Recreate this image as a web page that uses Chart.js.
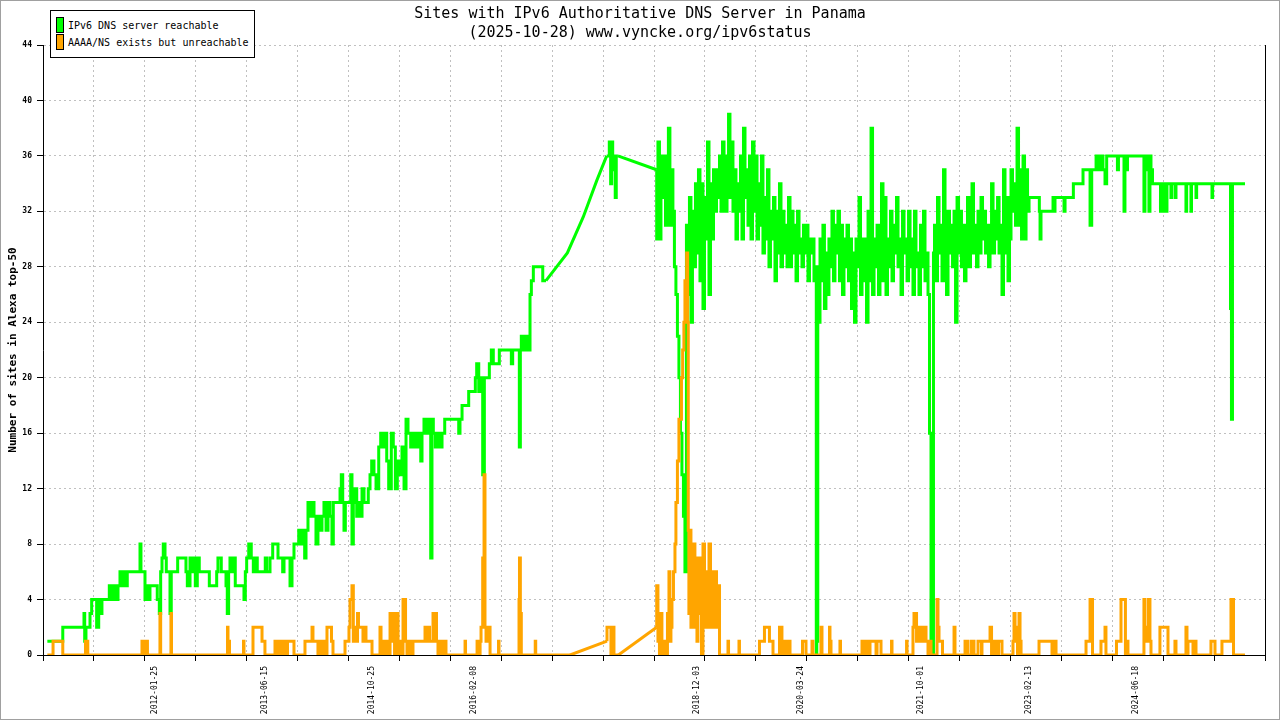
<!DOCTYPE html>
<html lang="en">
<head>
    <meta charset="UTF-8">
    <title>Sites with IPv6 Authoritative DNS Server in Panama</title>
    <script src="https://cdn.jsdelivr.net/npm/chart.js"></script>
    <style>
        body {
            margin: 0;
            background: #fff;
        }

        .wrap {
            position: relative;
            width: 1280px;
            height: 720px;
            background: #fff;
            font-family: "DejaVu Sans Mono", monospace;
        }

        .title {
            position: absolute;
            left: 0;
            width: 1280px;
            text-align: center;
            font-size: 15px;
            line-height: 19px;
            color: #000;
        }

        .legend {
            position: absolute;
            left: 50px;
            top: 10px;
            width: 205px;
            height: 48px;
            box-sizing: border-box;
            border: 1px solid #000;
            background: #fff;
            font-size: 10px;
        }

        .legend .sw {
            position: absolute;
            left: 5px;
            width: 6px;
            height: 14px;
            border: 1px solid #000;
        }

        .legend .txt {
            position: absolute;
            left: 17px;
            line-height: 14px;
            white-space: nowrap;
        }

        .frame {
            position: absolute;
            inset: 0;
            border: 1px solid #a0a0a0;
            pointer-events: none;
        }
    </style>
</head>

<body>
    <div class="wrap">
        <canvas id="chart" width="1280" height="720"></canvas>
        <div class="title" style="top:4px">Sites with IPv6 Authoritative DNS Server in Panama</div>
        <div class="title" style="top:23px">(2025-10-28) www.vyncke.org/ipv6status</div>
        <div class="legend">
            <div class="sw" style="top:6px;background:#00ff00"></div>
            <div class="txt" style="top:8px">IPv6 DNS server reachable</div>
            <div class="sw" style="top:23px;background:#ffa500"></div>
            <div class="txt" style="top:25px">AAAA/NS exists but unreachable</div>
        </div>
        <div class="frame"></div>
    </div>

    <script>
        // x values are decimal years, y values are site counts
        const xMin = 2010.653;
        const xMax = 2026.097;
        const gridDivisions = 24;
        const dateLabels = ['2012-01-25', '2013-06-15', '2014-10-25', '2016-02-08', '2018-12-03',
            '2020-03-24', '2021-10-01', '2023-02-13', '2024-06-18'];
        const yTicks = [0, 4, 8, 12, 16, 20, 24, 28, 32, 36, 40, 44];
        // a longer pause between samples (in years) is drawn as a straight line, not a step
        const sampleGap = 0.12;

        // IPv6 DNS server reachable
        const reachable = [
            [2010.708,1],[2010.784,1],[2010.903,1],[2010.910,2],[2011.171,2],[2011.180,3],[2011.196,1],[2011.213,2],
            [2011.247,2],[2011.268,3],[2011.288,4],[2011.331,4],[2011.357,2],[2011.373,4],[2011.398,3],[2011.424,4],
            [2011.491,4],[2011.508,5],[2011.541,4],[2011.575,5],[2011.601,4],[2011.626,5],[2011.651,6],[2011.668,5],
            [2011.693,6],[2011.718,5],[2011.743,6],[2011.879,6],[2011.891,8],[2011.908,6],[2011.942,6],[2011.954,4],
            [2011.980,5],[2012.005,4],[2012.030,5],[2012.097,5],[2012.123,4],[2012.140,3],[2012.157,6],[2012.173,7],
            [2012.195,8],[2012.211,7],[2012.229,6],[2012.258,6],[2012.274,3],[2012.292,6],[2012.355,6],[2012.368,7],
            [2012.460,7],[2012.477,6],[2012.511,5],[2012.532,7],[2012.552,6],[2012.578,7],[2012.603,5],[2012.628,7],
            [2012.646,6],[2012.755,6],[2012.772,5],[2012.848,5],[2012.864,6],[2012.906,7],[2012.931,6],[2012.966,6],
            [2012.982,5],[2012.999,3],[2013.016,6],[2013.041,7],[2013.058,6],[2013.083,7],[2013.108,5],[2013.193,5],
            [2013.210,4],[2013.227,6],[2013.253,7],[2013.285,8],[2013.311,7],[2013.345,6],[2013.361,7],[2013.387,6],
            [2013.462,6],[2013.480,7],[2013.522,6],[2013.556,7],[2013.623,8],[2013.648,7],[2013.682,7],[2013.699,6],
            [2013.724,7],[2013.775,7],[2013.800,5],[2013.825,7],[2013.850,8],[2013.885,8],[2013.910,9],[2013.935,8],
            [2013.960,9],[2013.977,7],[2014.002,9],[2014.027,11],[2014.053,10],[2014.078,11],[2014.103,10],[2014.128,8],
            [2014.154,10],[2014.179,9],[2014.204,10],[2014.230,11],[2014.255,9],[2014.280,11],[2014.305,10],[2014.322,8],
            [2014.347,11],[2014.407,11],[2014.423,12],[2014.441,13],[2014.457,11],[2014.474,9],[2014.499,11],[2014.542,11],
            [2014.558,13],[2014.575,8],[2014.592,11],[2014.618,12],[2014.643,10],
            [2014.659,11],[2014.685,10],[2014.710,12],[2014.764,11],[2014.786,12],[2014.807,13],[2014.836,14],[2014.862,13],
            [2014.896,12],[2014.921,15],[2014.946,16],[2014.972,15],[2014.997,16],[2015.022,14],[2015.055,12],[2015.080,16],
            [2015.106,15],[2015.131,12],[2015.156,14],[2015.190,13],[2015.216,15],[2015.241,12],[2015.266,17],[2015.300,16],
            [2015.326,15],[2015.358,16],[2015.392,15],[2015.427,16],[2015.443,14],[2015.468,16],[2015.494,17],[2015.528,16],
            [2015.553,17],[2015.569,7],[2015.586,17],[2015.611,16],[2015.636,15],[2015.671,16],[2015.696,15],[2015.730,16],
            [2015.755,17],[2015.907,17],[2015.923,16],[2015.949,17],[2015.965,18],[2016.033,18],[2016.050,19],[2016.117,19],
            [2016.134,20],[2016.160,21],[2016.185,19],[2016.210,20],[2016.231,13],[2016.252,20],[2016.294,20],[2016.319,21],
            [2016.344,22],[2016.370,21],[2016.420,21],[2016.438,22],[2016.572,22],[2016.589,21],[2016.606,22],[2016.673,22],
            [2016.686,15],[2016.698,22],[2016.716,23],[2016.749,22],[2016.774,23],[2016.808,22],[2016.825,26],[2016.850,27],
            [2016.875,28],[2016.969,28],[2017.010,27],[2017.280,29],[2017.481,31.6],[2017.650,34.2],[2017.777,36],[2017.810,36],
            [2017.827,37],[2017.840,34],[2017.853,37],[2017.869,35],[2017.885,36],[2017.898,33],[2017.919,36],[2018.409,35],
            [2018.425,30],[2018.444,37],[2018.463,30],[2018.482,36],[2018.501,33],[2018.520,36],[2018.538,31],[2018.557,35],
            [2018.576,38],[2018.595,31],[2018.614,35],[2018.633,32],[2018.652,28],[2018.671,26],[2018.690,23],[2018.709,20],
            [2018.728,16],[2018.747,13],[2018.766,10],[2018.785,6],[2018.804,31],[2018.823,26],[2018.842,33],[2018.861,24],
            [2018.880,32],[2018.899,28],[2018.918,34],[2018.937,29],[2018.956,35],[2018.975,27],[2018.994,34],[2019.013,25],
            [2019.032,33],[2019.051,30],[2019.070,37],[2019.089,26],[2019.108,34],[2019.127,30],[2019.146,35],[2019.165,32],
            [2019.184,35],[2019.203,33],[2019.222,36],[2019.241,32],[2019.260,37],[2019.279,34],[2019.298,32],[2019.317,36],
            [2019.335,39],[2019.354,33],[2019.373,37],[2019.392,32],[2019.411,35],[2019.430,30],[2019.449,34],[2019.468,32],
            [2019.487,36],[2019.506,30],[2019.525,38],[2019.544,33],[2019.563,35],[2019.582,31],[2019.601,36],[2019.620,30],
            [2019.639,37],[2019.658,32],[2019.677,36],[2019.696,30],[2019.714,34],[2019.733,31],[2019.752,36],[2019.771,29],
            [2019.790,33],[2019.809,30],[2019.828,35],[2019.847,28],[2019.866,32],[2019.885,30],[2019.904,33],[2019.923,27],
            [2019.942,32],[2019.961,29],[2019.980,34],[2019.999,28],[2020.018,32],[2020.037,29],[2020.056,31],[2020.075,28],
            [2020.094,33],[2020.113,28],[2020.132,32],[2020.151,29],[2020.170,31],[2020.189,27],[2020.208,32],[2020.227,29],
            [2020.245,30],[2020.264,28],[2020.283,31],[2020.302,29],[2020.321,31],[2020.340,27],[2020.359,30],[2020.378,29],
            [2020.397,30],[2020.416,27],[2020.426,28],[2020.432,0],[2020.445,1],[2020.454,28],[2020.473,24],[2020.492,30],
            [2020.510,27],[2020.529,31],[2020.548,25],[2020.567,29],[2020.586,26],[2020.605,30],[2020.624,28],[2020.643,32],
            [2020.662,27],[2020.681,31],[2020.700,29],[2020.719,32],[2020.738,27],[2020.757,31],[2020.776,26],[2020.795,30],
            [2020.814,28],[2020.833,31],[2020.852,27],[2020.871,30],[2020.890,25],[2020.909,29],[2020.928,24],[2020.947,30],
            [2020.966,28],[2020.985,33],[2021.004,26],[2021.023,30],[2021.042,27],[2021.061,30],[2021.080,24],[2021.099,32],
            [2021.118,27],[2021.137,38],[2021.156,26],[2021.175,30],[2021.194,28],[2021.212,31],[2021.231,26],[2021.250,29],
            [2021.269,34],[2021.288,27],[2021.307,33],[2021.326,26],[2021.345,30],[2021.364,28],[2021.383,32],[2021.402,27],
            [2021.421,31],[2021.440,29],[2021.459,33],[2021.478,28],[2021.497,30],[2021.516,26],[2021.535,32],[2021.554,29],
            [2021.573,30],[2021.592,27],[2021.611,32],[2021.630,28],[2021.648,30],[2021.667,26],[2021.686,32],[2021.705,28],
            [2021.724,29],[2021.743,26],[2021.762,31],[2021.781,28],[2021.800,32],[2021.819,27],[2021.838,29],[2021.857,26],
            [2021.876,16],[2021.895,0],[2021.907,0],[2021.920,29],[2021.939,31],[2021.958,27],[2021.977,33],[2021.996,29],
            [2022.015,31],[2022.034,27],[2022.053,35],[2022.072,30],[2022.091,26],[2022.110,32],[2022.129,29],[2022.148,31],
            [2022.167,28],[2022.186,32],[2022.205,24],[2022.224,33],[2022.242,29],[2022.261,32],[2022.280,28],[2022.299,31],
            [2022.318,27],[2022.337,31],[2022.356,33],[2022.375,28],[2022.394,31],[2022.413,34],[2022.432,29],[2022.451,31],
            [2022.470,28],[2022.489,32],[2022.508,29],[2022.527,33],[2022.546,30],[2022.565,32],[2022.584,29],[2022.603,31],
            [2022.622,28],[2022.641,31],[2022.660,34],[2022.679,29],[2022.698,32],[2022.717,30],[2022.736,33],[2022.754,29],
            [2022.773,31],[2022.792,26],[2022.811,35],[2022.830,29],[2022.849,33],[2022.868,27],[2022.887,30],[2022.906,35],
            [2022.925,32],[2022.944,34],[2022.963,31],[2022.982,38],[2023.001,31],[2023.020,35],[2023.039,30],[2023.058,36],
            [2023.077,30],[2023.096,35],[2023.115,32],[2023.134,33],[2023.245,33],[2023.254,32],[2023.266,30],[2023.285,32],
            [2023.418,32],[2023.431,33],[2023.443,32],[2023.469,33],[2023.557,33],[2023.570,32],[2023.583,33],[2023.675,33],
            [2023.684,34],[2023.797,34],[2023.810,35],[2023.886,35],[2023.907,31],[2023.924,35],[2023.962,35],[2023.974,36],
            [2023.999,36],[2024.011,35],[2024.037,35],[2024.049,36],[2024.075,35],[2024.096,34],[2024.113,36],[2024.232,36],
            [2024.245,35],[2024.258,36],[2024.315,36],[2024.327,32],[2024.340,36],[2024.359,35],[2024.378,36],[2024.567,36],
            [2024.580,32],[2024.592,36],[2024.618,35],[2024.630,36],[2024.643,32],[2024.656,36],[2024.675,35],[2024.694,34],
            [2024.776,34],[2024.782,32],[2024.795,34],[2024.814,32],[2024.833,34],[2024.858,32],[2024.871,34],[2024.908,34],
            [2024.921,33],[2024.934,34],[2024.965,34],[2024.972,33],[2024.984,34],[2025.098,34],[2025.107,32],[2025.124,34],
            [2025.161,34],[2025.168,32],[2025.187,34],[2025.225,34],[2025.233,33],[2025.250,34],[2025.427,34],[2025.435,33],
            [2025.452,34],[2025.661,34],[2025.673,25],[2025.686,17],[2025.701,34],[2025.844,34]
        ];

        // AAAA/NS exists but unreachable
        const unreachable = [
            [2010.708,0],[2010.780,0],[2010.793,1],[2010.903,1],[2010.913,0],[2011.190,0],[2011.198,1],[2011.219,1],
            [2011.225,0],[2011.904,0],[2011.916,1],[2011.929,0],[2011.942,1],[2011.961,0],[2011.973,1],[2011.992,0],
            [2012.131,0],[2012.140,3],[2012.150,0],[2012.270,0],[2012.277,3],[2012.289,0],[2012.985,0],[2012.991,2],
            [2013.010,1],[2013.016,0],[2013.187,0],[2013.193,1],[2013.206,0],[2013.307,0],[2013.313,2],[2013.421,2],
            [2013.433,1],[2013.458,1],[2013.465,0],[2013.585,0],[2013.597,1],[2013.610,0],[2013.623,1],[2013.642,0],
            [2013.661,1],[2013.686,0],[2013.699,1],[2013.711,0],[2013.730,1],[2013.743,0],[2013.756,1],[2013.825,1],
            [2013.838,0],[2013.964,0],[2013.989,1],[2014.053,1],[2014.065,2],[2014.078,1],[2014.128,1],[2014.141,0],
            [2014.166,1],[2014.192,0],[2014.217,1],[2014.242,0],[2014.261,2],[2014.299,2],[2014.318,1],[2014.330,0],
            [2014.470,0],[2014.482,1],[2014.520,1],[2014.533,2],[2014.558,4],[2014.575,5],[2014.584,1],[2014.609,2],
            [2014.628,1],[2014.640,3],[2014.659,2],[2014.697,2],[2014.710,1],[2014.735,2],[2014.760,1],[2014.811,1],
            [2014.823,0],[2014.912,0],[2014.925,2],[2014.944,1],[2014.963,0],[2014.982,1],[2015.001,0],[2015.020,1],
            [2015.039,0],[2015.058,3],[2015.077,1],[2015.096,3],[2015.115,0],[2015.140,3],[2015.159,0],[2015.178,1],
            [2015.203,0],[2015.235,4],[2015.253,1],[2015.279,0],[2015.304,1],[2015.329,0],[2015.348,1],[2015.481,1],
            [2015.500,2],[2015.519,1],[2015.538,2],[2015.557,1],[2015.582,1],[2015.595,3],[2015.614,1],[2015.626,3],
            [2015.645,1],[2015.671,0],[2015.696,1],[2015.721,0],[2015.746,1],[2015.765,0],[2015.987,0],[2015.993,1],
            [2016.006,0],[2016.139,0],[2016.151,1],[2016.177,0],[2016.189,1],[2016.210,2],[2016.227,7],[2016.239,13],
            [2016.252,2],[2016.277,1],[2016.303,2],[2016.315,0],[2016.410,0],[2016.416,1],[2016.429,0],[2016.669,0],[2016.675,4],
            [2016.686,7],[2016.698,3],[2016.713,0],[2016.874,0],[2016.880,1],[2016.890,0],[2017.314,0],[2017.781,1],[2017.793,2],
            [2017.831,2],[2017.844,0],[2017.869,2],[2017.888,0],[2017.925,0],[2018.409,2],[2018.425,5],[2018.444,1],
            [2018.463,0],[2018.475,3],[2018.494,1],[2018.513,0],[2018.532,1],[2018.545,0],[2018.564,3],[2018.576,6],
            [2018.589,1],[2018.602,2],[2018.621,4],[2018.640,6],[2018.652,8],[2018.671,11],[2018.690,14],[2018.722,17],
            [2018.737,20],[2018.753,22],[2018.766,24],[2018.788,27],[2018.800,29],[2018.808,24],[2018.816,9],[2018.829,3],
            [2018.842,9],[2018.854,2],[2018.867,8],[2018.880,3],[2018.892,8],[2018.905,2],[2018.918,7],[2018.930,1],
            [2018.943,6],[2018.956,3],[2018.975,7],[2018.994,0],[2019.013,8],[2019.032,2],[2019.051,6],[2019.070,2],
            [2019.089,8],[2019.108,2],[2019.127,6],[2019.146,2],[2019.165,6],[2019.184,2],[2019.203,5],[2019.213,0],
            [2019.310,0],[2019.317,1],[2019.329,0],[2019.449,0],[2019.455,1],[2019.468,0],[2019.708,0],[2019.714,1],
            [2019.771,1],[2019.777,2],[2019.834,2],[2019.841,1],[2019.879,1],[2019.891,0],[2019.961,0],[2019.967,2],
            [2019.992,2],[2019.999,0],[2020.030,0],[2020.043,1],[2020.068,0],[2020.094,1],[2020.119,0],[2020.252,0],
            [2020.258,1],[2020.296,1],[2020.302,0],[2020.372,0],[2020.384,1],[2020.397,0],[2020.485,0],[2020.498,2],
            [2020.510,0],[2020.593,0],[2020.599,2],[2020.612,1],[2020.624,0],[2020.725,0],[2020.732,1],[2020.744,0],
            [2021.004,0],[2021.010,1],[2021.029,0],[2021.055,1],[2021.067,0],[2021.093,1],[2021.105,0],[2021.181,1],
            [2021.194,0],[2021.244,1],[2021.257,0],[2021.377,0],[2021.383,1],[2021.396,0],[2021.567,0],[2021.573,1],[2021.585,0],[2021.648,0],
            [2021.661,2],[2021.693,3],[2021.711,1],[2021.730,2],[2021.749,1],[2021.768,2],[2021.787,1],[2021.813,2],
            [2021.838,1],[2021.857,0],[2021.876,1],[2021.901,0],[2021.952,0],[2021.964,4],[2021.977,2],[2021.996,1],
            [2022.021,1],[2022.040,0],[2022.167,0],[2022.179,2],[2022.198,0],[2022.306,0],[2022.312,1],[2022.344,1],
            [2022.350,0],[2022.388,0],[2022.394,1],[2022.419,1],[2022.432,0],[2022.470,0],[2022.476,1],[2022.514,1],
            [2022.520,0],[2022.533,1],[2022.622,1],[2022.641,2],[2022.653,0],[2022.666,1],[2022.685,0],[2022.698,1],
            [2022.723,1],[2022.729,0],[2022.773,1],[2022.786,0],[2022.912,0],[2022.925,1],[2022.938,3],[2022.957,1],
            [2022.969,2],[2022.982,0],[2022.988,2],[2023.001,3],[2023.014,1],[2023.039,0],[2023.241,0],[2023.248,1],
            [2023.405,1],[2023.418,0],[2023.431,1],[2023.456,1],[2023.462,0],[2023.835,0],[2023.848,1],[2023.886,1],
            [2023.898,4],[2023.917,4],[2023.924,0],[2024.024,0],[2024.037,1],[2024.075,1],[2024.087,2],[2024.100,0],
            [2024.220,0],[2024.226,1],[2024.277,1],[2024.315,4],[2024.333,4],[2024.340,0],[2024.365,1],[2024.378,0],
            [2024.567,0],[2024.580,4],[2024.605,1],[2024.624,2],[2024.643,4],[2024.656,1],[2024.668,0],[2024.769,0],
            [2024.782,2],[2024.871,2],[2024.877,0],[2024.959,0],[2024.972,1],[2024.984,0],[2025.098,0],[2025.111,2],
            [2025.124,0],[2025.136,1],[2025.187,1],[2025.199,0],[2025.225,1],[2025.244,0],[2025.414,0],[2025.427,1],
            [2025.465,1],[2025.471,0],[2025.553,0],[2025.566,1],[2025.667,1],[2025.680,4],[2025.699,4],[2025.705,0],
            [2025.844,0]
        ];

        function decimalYear(s) {
            const [y, m, d] = s.split('-').map(Number);
            const start = Date.UTC(y, 0, 1);
            const end = Date.UTC(y + 1, 0, 1);
            return y + (Date.UTC(y, m - 1, d) - start) / (end - start);
        }

        // true for a segment that spans a long pause in the samples and changes value
        function isGap(c) {
            return (c.p1.parsed.x - c.p0.parsed.x) > sampleGap && c.p1.parsed.y !== c.p0.parsed.y;
        }

        const clear = 'rgba(0,0,0,0)';
        const gridGray = '#c0c0c0';

        // each series: a stepped line for the daily samples plus straight lines across pauses
        function seriesSets(points, color, order) {
            const data = points.map(p => ({ x: p[0], y: p[1] }));
            return [{
                data: data,
                borderColor: color,
                stepped: 'after',
                order: order,
                segment: { borderColor: c => isGap(c) ? clear : color }
            }, {
                data: data,
                borderColor: color,
                order: order,
                segment: { borderColor: c => isGap(c) ? color : clear }
            }];
        }

        new Chart(document.getElementById('chart').getContext('2d'), {
            type: 'line',
            data: {
                datasets: [
                    ...seriesSets(unreachable, '#ffa500', 0),
                    ...seriesSets(reachable, '#00ff00', 1)
                ]
            },
            options: {
                responsive: false,
                animation: false,
                devicePixelRatio: 1,
                layout: { padding: { top: 45, right: 15, left: 0, bottom: 0 } },
                elements: {
                    point: { radius: 0 },
                    line: { borderWidth: 3, tension: 0, borderJoinStyle: 'miter', fill: false }
                },
                plugins: {
                    legend: { display: false },
                    tooltip: { enabled: false },
                    title: { display: false }
                },
                scales: {
                    x: {
                        type: 'linear',
                        min: xMin,
                        max: xMax,
                        afterFit: (scale) => { scale.height = 65; },
                        afterBuildTicks: (scale) => {
                            const ticks = [];
                            for (let k = 0; k <= gridDivisions; k++) {
                                ticks.push({ value: xMin + k * (xMax - xMin) / gridDivisions, lab: '', edge: k === gridDivisions });
                            }
                            dateLabels.forEach(s => ticks.push({ value: decimalYear(s), lab: s, isLabel: true }));
                            ticks.sort((a, b) => a.value - b.value);
                            scale.ticks = ticks;
                        },
                        ticks: {
                            autoSkip: false,
                            minRotation: 90,
                            maxRotation: 90,
                            padding: 5,
                            color: '#000',
                            font: { family: 'DejaVu Sans Mono', size: 8 },
                            callback: (value, index, ticks) => ticks[index].lab
                        },
                        grid: {
                            color: c => c.tick && c.tick.isLabel ? clear : (c.tick && c.tick.edge ? '#000' : gridGray),
                            lineWidth: 1,
                            tickLength: 6,
                            tickColor: c => c.tick && c.tick.isLabel ? clear : '#000',
                            tickBorderDash: []
                        },
                        border: {
                            display: true,
                            color: '#000',
                            width: 1,
                            dash: c => (c.tick && !c.tick.edge) ? [2, 3] : []
                        }
                    },
                    y: {
                        min: 0,
                        max: 44,
                        afterFit: (scale) => { scale.width = 43; },
                        afterBuildTicks: (scale) => { scale.ticks = yTicks.map(v => ({ value: v })); },
                        ticks: {
                            padding: 5,
                            color: '#000',
                            font: { family: 'DejaVu Sans Mono', size: 8, weight: 'bold' }
                        },
                        grid: {
                            color: gridGray,
                            lineWidth: 1,
                            tickLength: 6,
                            tickColor: '#000',
                            tickBorderDash: []
                        },
                        border: {
                            display: true,
                            color: '#000',
                            width: 1,
                            dash: c => c.tick ? [2, 3] : []
                        },
                        title: {
                            display: true,
                            text: 'Number of sites in Alexa top-50',
                            color: '#000',
                            padding: { top: 7, bottom: 0 },
                            font: { family: 'DejaVu Sans Mono', size: 11, weight: 'bold' }
                        }
                    }
                }
            }
        });
    </script>
</body>

</html>
